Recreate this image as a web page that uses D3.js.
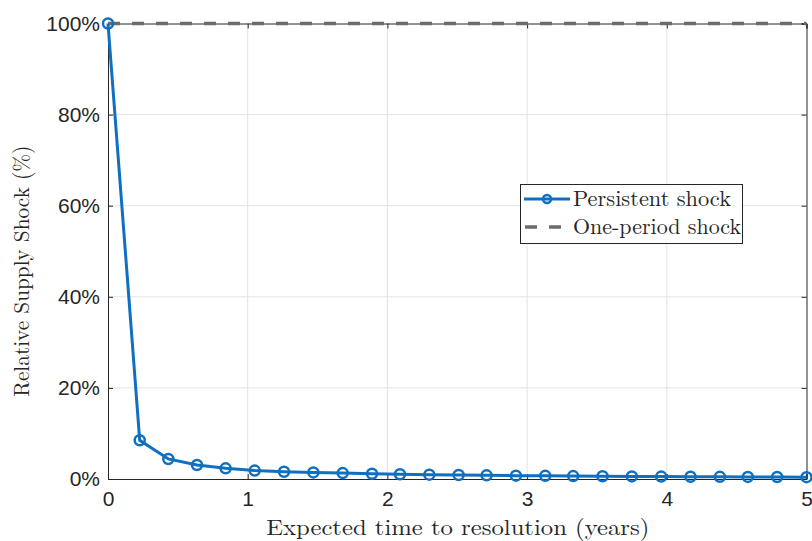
<!DOCTYPE html>
<html>
<head>
<meta charset="utf-8">
<script src="https://cdn.jsdelivr.net/npm/d3@7"></script>
<style>
  body { margin: 0; background: #fff; }
  svg { display: block; }
</style>
</head>
<body>
<script>
// data
const YEARS = [0, 0.227, 0.432, 0.637, 0.842, 1.05, 1.26, 1.47, 1.68, 1.89, 2.09, 2.30, 2.51,
  2.71, 2.92, 3.13, 3.33, 3.54, 3.75, 3.96, 4.17, 4.38, 4.58, 4.79, 5.0]
const PERSISTENT = [100, 8.5, 4.4, 3.07, 2.35, 1.85, 1.6, 1.45, 1.3, 1.16, 1.05, 0.95, 0.87,
  0.8, 0.74, 0.69, 0.64, 0.6, 0.56, 0.53, 0.5, 0.47, 0.45, 0.43, 0.41]
const ONE_PERIOD = [100, 100]
const ONE_PERIOD_X = [0, 5]
const X_TICKS = [0, 1, 2, 3, 4, 5]
const Y_TICKS = [0, 20, 40, 60, 80, 100]
const SERIES_NAMES = ['Persistent shock', 'One-period shock']

const WIDTH = 812
const HEIGHT = 541
const LEFT = 108, RIGHT = 806.5, TOP = 23.5, BOTTOM = 479

const BLUE = '#0F6FC0'
const GREY = '#6b6b6b'
const AXIS = '#262626'
const SANS = 'Helvetica, Arial, "Liberation Sans", sans-serif'
const SERIF = '"Latin Modern Roman", "DejaVu Serif", "Liberation Serif", serif'

const svg = d3.select('body').append('svg')
  .attr('width', WIDTH)
  .attr('height', HEIGHT)

const x = d3.scaleLinear().domain([0, 5]).range([LEFT, RIGHT])
const y = d3.scaleLinear().domain([0, 100]).range([BOTTOM, TOP])

// grille
svg.append('g').selectAll('line').data(X_TICKS.slice(1, -1)).enter().append('line')
  .attr('x1', d => x(d)).attr('x2', d => x(d))
  .attr('y1', TOP).attr('y2', BOTTOM)
  .attr('stroke', '#e3e3e3').attr('stroke-width', 1)
svg.append('g').selectAll('line').data(Y_TICKS.slice(1, -1)).enter().append('line')
  .attr('x1', LEFT).attr('x2', RIGHT)
  .attr('y1', d => y(d)).attr('y2', d => y(d))
  .attr('stroke', '#e3e3e3').attr('stroke-width', 1)

// axes (ticks inside, box on)
const xAxis = svg.append('g')
  .attr('transform', `translate(0,${BOTTOM})`)
  .call(d3.axisBottom(x).tickValues(X_TICKS).tickSize(-5).tickPadding(10).tickFormat(d3.format('d')))
const xAxisTop = svg.append('g')
  .attr('transform', `translate(0,${TOP})`)
  .call(d3.axisTop(x).tickValues(X_TICKS).tickSize(-5).tickFormat(''))
const yAxis = svg.append('g')
  .attr('transform', `translate(${LEFT},0)`)
  .call(d3.axisLeft(y).tickValues(Y_TICKS).tickSize(-5).tickPadding(8).tickFormat(d => d + '%'))
const yAxisRight = svg.append('g')
  .attr('transform', `translate(${RIGHT},0)`)
  .call(d3.axisRight(y).tickValues(Y_TICKS).tickSize(-5).tickFormat(''))

for (const g of [xAxis, xAxisTop, yAxis, yAxisRight]) {
  g.select('.domain').attr('stroke', AXIS).attr('stroke-width', 1)
  g.selectAll('.tick line').attr('stroke', AXIS)
  g.selectAll('text').attr('fill', AXIS).style('font-family', SANS).style('font-size', '21px')
}
xAxis.selectAll('text').attr('dy', '0.8em')

// one-period shock, pointillé gris
svg.append('path')
  .datum(ONE_PERIOD_X.map((d, i) => [d, ONE_PERIOD[i]]))
  .attr('d', d3.line().x(d => x(d[0])).y(d => y(d[1])))
  .attr('fill', 'none')
  .attr('stroke', GREY)
  .attr('stroke-width', 3.5)
  .attr('stroke-dasharray', '12,12')

// persistent shock
const pts = YEARS.map((d, i) => [d, PERSISTENT[i]])
svg.append('path')
  .datum(pts)
  .attr('d', d3.line().x(d => x(d[0])).y(d => y(d[1])))
  .attr('fill', 'none')
  .attr('stroke', BLUE)
  .attr('stroke-width', 3)
svg.append('g').selectAll('circle').data(pts).enter().append('circle')
  .attr('cx', d => x(d[0]))
  .attr('cy', d => y(d[1]))
  .attr('r', 5)
  .attr('fill', 'none')
  .attr('stroke', BLUE)
  .attr('stroke-width', 2.5)

// titres des axes
svg.append('text')
  .attr('x', (LEFT + RIGHT) / 2 + 0.5)
  .attr('y', 535)
  .attr('text-anchor', 'middle')
  .attr('textLength', 383)
  .attr('lengthAdjust', 'spacingAndGlyphs')
  .style('font-family', SERIF)
  .style('font-size', '22px')
  .attr('fill', AXIS)
  .text('Expected time to resolution (years)')

svg.append('text')
  .attr('transform', `translate(29,${(TOP + BOTTOM) / 2 + 20}) rotate(-90)`)
  .attr('text-anchor', 'middle')
  .attr('textLength', 251)
  .attr('lengthAdjust', 'spacingAndGlyphs')
  .style('font-family', SERIF)
  .style('font-size', '22px')
  .attr('fill', AXIS)
  .text('Relative Supply Shock (%)')

// légende
const legend = svg.append('g')
legend.append('rect')
  .attr('x', 520.5).attr('y', 184.5)
  .attr('width', 222).attr('height', 59)
  .attr('fill', '#fff')
  .attr('stroke', AXIS).attr('stroke-width', 1)
const rows = [
  { name: SERIES_NAMES[0], color: BLUE, dash: null, marker: true, w: 3, len: 158 },
  { name: SERIES_NAMES[1], color: GREY, dash: '12,12', marker: false, w: 3.5, len: 168 },
]
rows.forEach((r, i) => {
  const cy = 199 + i * 28
  legend.append('line')
    .attr('x1', r.dash ? 525 : 524).attr('x2', 570)
    .attr('y1', cy).attr('y2', cy)
    .attr('stroke', r.color).attr('stroke-width', r.w)
    .attr('stroke-dasharray', r.dash)
  if (r.marker) {
    legend.append('circle')
      .attr('cx', 547).attr('cy', cy).attr('r', 4)
      .attr('fill', 'none').attr('stroke', r.color).attr('stroke-width', 2.5)
  }
  legend.append('text')
    .attr('x', 573).attr('y', cy + 7)
    .attr('textLength', r.len)
    .attr('lengthAdjust', 'spacingAndGlyphs')
    .style('font-family', SERIF)
    .style('font-size', '22px')
    .attr('fill', AXIS)
    .text(r.name)
})
</script>
</body>
</html>
